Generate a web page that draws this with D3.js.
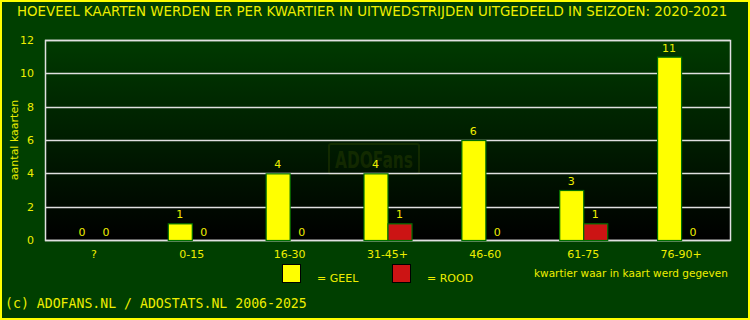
<!DOCTYPE html>
<html>
<head>
<meta charset="utf-8">
<script src="https://cdn.jsdelivr.net/npm/d3@7"></script>
<style>
  body { margin: 0; background: #003f00; }
  svg { display: block; }
</style>
</head>
<body>
<svg width="750" height="320"></svg>
<script>
const kwartieren = ["?", "0-15", "16-30", "31-45+", "46-60", "61-75", "76-90+"];
const geel = [0, 1, 4, 4, 6, 3, 11];
const rood = [0, 0, 0, 1, 0, 1, 0];
const yTicks = [0, 2, 4, 6, 8, 10, 12];

const txt = "#eeee00";
let svg = d3.select("svg"),
    margin = {top: 40, right: 20, bottom: 80, left: 45},
    width = +svg.attr("width") - margin.left - margin.right,
    height = +svg.attr("height") - margin.top - margin.bottom;

svg.append("rect").attr("width", 750).attr("height", 320).attr("fill", "#003f00");
svg.append("rect").attr("x", 1).attr("y", 1).attr("width", 748).attr("height", 318)
    .attr("fill", "none").attr("stroke", "#ffff00").attr("stroke-width", 2);

const grad = svg.append("defs").append("linearGradient")
    .attr("id", "bg").attr("x1", 0).attr("y1", 0).attr("x2", 0).attr("y2", 1);
grad.append("stop").attr("offset", "0%").attr("stop-color", "#003a00");
grad.append("stop").attr("offset", "100%").attr("stop-color", "#000000");

let g = svg.append("g").attr("transform", "translate(" + margin.left + "," + margin.top + ")");

const x = d3.scaleBand().domain(kwartieren).range([0, width]);
const y = d3.scaleLinear().domain([0, 12]).range([height, 0]);
const bw = 24;

g.append("rect").attr("width", width).attr("height", height).attr("fill", "url(#bg)");

// watermark
const wm = g.append("g").attr("opacity", 0.13);
wm.append("rect").attr("x", 284).attr("y", 104).attr("width", 90).attr("height", 30)
    .attr("rx", 2).attr("fill", "none").attr("stroke", "#8aa000").attr("stroke-width", 2);
wm.append("text").attr("x", 329).attr("y", 128).attr("text-anchor", "middle")
    .attr("font-family", "DejaVu Sans").attr("font-weight", "bold").attr("font-size", 23)
    .attr("textLength", 78).attr("lengthAdjust", "spacingAndGlyphs")
    .attr("fill", "#8aa000").text("ADOFans");

// gridlines
g.append("g").selectAll("line").data(yTicks).join("line")
    .attr("x1", 0).attr("x2", width)
    .attr("y1", d => Math.round(y(d)) + 0.5).attr("y2", d => Math.round(y(d)) + 0.5)
    .attr("stroke", "#e0e0e0").attr("stroke-width", 1.5);
g.append("rect").attr("x", 0.5).attr("y", 0.5).attr("width", width).attr("height", height)
    .attr("fill", "none").attr("stroke", "#e0e0e0").attr("stroke-width", 1.5);

const font = "DejaVu Sans";

// y ticks
g.append("g").selectAll("text").data(yTicks).join("text")
    .attr("x", -11).attr("y", d => y(d) + 4)
    .attr("text-anchor", "end").attr("font-family", font).attr("font-size", 11)
    .attr("fill", txt).text(d => d);

// bars
const series = [{vals: geel, fill: "#ffff00", off: -bw}, {vals: rood, fill: "#cc1414", off: 0}];
series.forEach(s => {
  const cx = d => x(kwartieren[d]) + x.bandwidth() / 2 + s.off;
  const idx = d3.range(kwartieren.length);
  g.append("g").selectAll("rect").data(idx.filter(i => s.vals[i] > 0)).join("rect")
      .attr("x", i => cx(i) + 0.5).attr("y", i => y(s.vals[i]) + 0.5)
      .attr("width", bw).attr("height", i => y(0) - y(s.vals[i]))
      .attr("fill", s.fill).attr("stroke", "#007000").attr("stroke-width", 1.2);
  g.append("g").selectAll("text").data(idx).join("text")
      .attr("x", i => cx(i) + bw / 2)
      .attr("y", i => s.vals[i] > 0 ? y(s.vals[i]) - 5 : y(0) - 4)
      .attr("text-anchor", "middle").attr("font-family", font).attr("font-size", 11)
      .attr("fill", txt).text(i => s.vals[i]);
});

// x labels
g.append("g").selectAll("text").data(kwartieren).join("text")
    .attr("x", d => x(d) + x.bandwidth() / 2).attr("y", height + 18)
    .attr("text-anchor", "middle").attr("font-family", font).attr("font-size", 11)
    .attr("fill", txt).text(d => d);

// y label
svg.append("text").attr("transform", "translate(18,140) rotate(-90)")
    .attr("text-anchor", "middle").attr("font-family", font).attr("font-size", 11)
    .attr("fill", txt).text("aantal kaarten");

// title
svg.append("text").attr("x", 17).attr("y", 16).attr("font-family", font).attr("font-size", 13.4)
    .attr("fill", txt).text("HOEVEEL KAARTEN WERDEN ER PER KWARTIER IN UITWEDSTRIJDEN UITGEDEELD IN SEIZOEN: 2020-2021");

// legend
const legend = [{label: "= GEEL", fill: "#ffff00", x: 282}, {label: "= ROOD", fill: "#cc1414", x: 392}];
legend.forEach(l => {
  svg.append("rect").attr("x", l.x + 0.5).attr("y", 264.5).attr("width", 18).attr("height", 18)
      .attr("fill", l.fill).attr("stroke", "#000").attr("stroke-width", 1);
  svg.append("text").attr("x", l.x + 35).attr("y", 282).attr("font-family", font).attr("font-size", 11)
      .attr("fill", txt).text(l.label);
});
svg.append("text").attr("x", 534).attr("y", 277).attr("font-family", font).attr("font-size", 10.5)
    .attr("fill", txt).text("kwartier waar in kaart werd gegeven");

// footer
svg.append("text").attr("x", 5).attr("y", 308).attr("font-family", "DejaVu Sans Mono").attr("font-size", 13.2)
    .attr("fill", txt).text("(c) ADOFANS.NL / ADOSTATS.NL 2006-2025");
</script>
</body>
</html>
